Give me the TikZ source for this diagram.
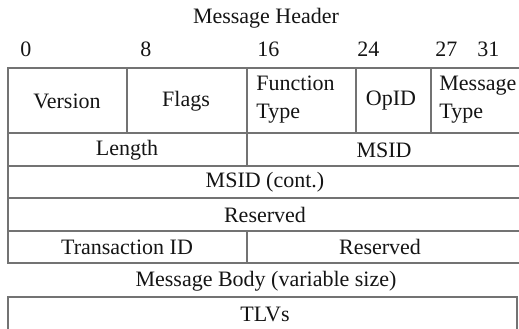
\documentclass[tikz,border=0pt]{standalone}
\usepackage{fontspec}
\setmainfont{Liberation Serif}
\begin{document}
\begin{tikzpicture}[x=0.5pt,y=-0.5pt,
  grid/.style={draw=black!55,line width=0.6pt},
  lbl/.style={inner sep=0pt,text=black!92,font=\fontsize{11}{14}\selectfont},
  two/.style={lbl,align=left,anchor=west}]
\useasboundingbox (0,0) rectangle (519,328);
\clip (0,0) rectangle (519,328);
% header frame
\draw[grid] (525,68) -- (8,68) -- (8,263) -- (525,263);
\foreach \y in {133,166,198,231} \draw[grid] (8,\y) -- (525,\y);
\foreach \x in {127,356,431} \draw[grid] (\x,68) -- (\x,133);
\draw[grid] (247,68) -- (247,166);
\draw[grid] (247,231) -- (247,263);
% body frame
\draw[grid] (8,297) rectangle (517,345);
% titles and bit positions
\node[lbl] (title) at (266,18) {Message Header};
\node[lbl,anchor=west] (b0) at (20,49) {0};
\node[lbl,anchor=west] (b8) at (140,49) {8};
\node[lbl,anchor=west] (b16) at (257,49) {16};
\node[lbl,anchor=west] (b24) at (357,49) {24};
\node[lbl,anchor=west] (b27) at (435,49) {27};
\node[lbl,anchor=west] (b31) at (477,49) {31};
% fields
\node[lbl] (version) at (67,101) {Version};
\node[lbl] (flags) at (186,101) {Flags};
\node[two] (ftype) at (256,100) {Function\\Type};
\node[lbl] (opid) at (391,101) {OpID};
\node[two] (mtype) at (439,100) {Message\\Type};
\node[lbl] (length) at (127,150) {Length};
\node[lbl] (msid) at (384,150) {MSID};
\node[lbl] (msidc) at (265,182) {MSID (cont.)};
\node[lbl] (res1) at (265,215) {Reserved};
\node[lbl] (tid) at (127,247) {Transaction ID};
\node[lbl] (res2) at (380,247) {Reserved};
\node[lbl] (body) at (266,281) {Message Body (variable size)};
\node[lbl] (tlv) at (265,314) {TLVs};
\end{tikzpicture}
\end{document}
